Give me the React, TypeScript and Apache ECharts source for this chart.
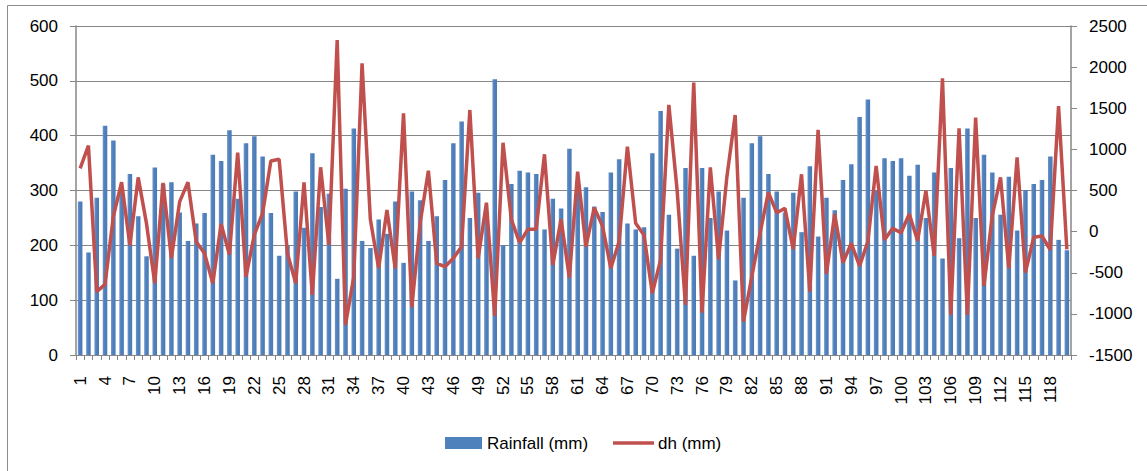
import React, { useEffect, useRef } from "react";
import * as echarts from "echarts";

const categories: string[] = Array.from({ length: 120 }, (_, i) => String(i + 1));

const rainfall: number[] = [
  280, 187, 287, 418, 391, 300, 330, 253, 180, 342,
  312, 315, 260, 208, 240, 259, 365, 354, 410, 285,
  386, 399, 362, 259, 181, 200, 298, 232, 368, 270,
  294, 139, 303, 413, 208, 195, 247, 221, 280, 168,
  298, 282, 208, 253, 319, 386, 426, 250, 296, 260,
  503, 200, 312, 336, 333, 330, 229, 285, 267, 376,
  305, 306, 271, 261, 333, 357, 240, 229, 233, 368,
  445, 256, 194, 341, 181, 341, 250, 298, 227, 136,
  287, 386, 399, 330, 298, 260, 296, 224, 344, 216,
  287, 264, 319, 348, 434, 466, 300, 359, 354, 359,
  327, 347, 250, 333, 176, 341, 213, 413, 250, 365,
  333, 256, 325, 227, 301, 312, 319, 362, 210, 191,
];

const dh: number[] = [
  770, 1045, -730, -641, 182, 600, -167, 660, 100, -629,
  591, -325, 364, 600, -122, -264, -629, 93, -280, 960,
  -548, -41, 222, 859, 879, -264, -629, 600, -770, 782,
  -163, 2330, -1135, -548, 2046, 149, -446, 263, -446, 1438,
  -920, 101, 741, -385, -426, -325, -183, 1479, -325, 352,
  -1026, 1081, 149, -134, 28, 28, 940, -406, 149, -560,
  729, -183, 291, 68, -446, -122, 1033, 101, -41, -750,
  -345, 1540, 500, -892, 1811, -985, 782, -337, 668, 1418,
  -1095, -548, -21, 478, 230, 283, -215, 697, -730, 1236,
  -515, 214, -378, -142, -418, -122, 798, -102, 40, -13,
  214, -110, 498, -296, 1864, -1014, 1256, -1014, 1386, -661,
  190, 660, -446, 903, -499, -69, -53, -223, 1527, -215,
];

const seriesNames: string[] = ["Rainfall (mm)", "dh (mm)"];

const FONT = "Liberation Sans";
const GRID_GRAY = "#868686";
const BLUE = "#4f81bd";
const RED = "#c0504d";

export default function App() {
  const ref = useRef<HTMLDivElement>(null);
  useEffect(() => {
    if (!ref.current) return;
    const chart = echarts.init(ref.current, undefined, { renderer: "svg" });
    chart.setOption({
      animation: false,
      backgroundColor: "#ffffff",
      textStyle: { fontFamily: FONT },
      graphic: [
        { type: "line", shape: { x1: 7.5, y1: 5.5, x2: 1147, y2: 5.5 }, style: { stroke: "#8c8c8c", lineWidth: 1 } },
        { type: "line", shape: { x1: 7.5, y1: 5.5, x2: 7.5, y2: 471 }, style: { stroke: "#8c8c8c", lineWidth: 1 } },
        { type: "rect", shape: { x: 445, y: 437, width: 37, height: 12 }, style: { fill: BLUE } },
        {
          type: "text",
          x: 487,
          y: 443,
          style: { text: seriesNames[0], fontFamily: FONT, fontSize: 17, fill: "#000", verticalAlign: "middle", align: "left" },
        },
        { type: "line", shape: { x1: 613, y1: 443, x2: 654, y2: 443 }, style: { stroke: RED, lineWidth: 3.5 } },
        {
          type: "text",
          x: 658,
          y: 443,
          style: { text: seriesNames[1], fontFamily: FONT, fontSize: 17, fill: "#000", verticalAlign: "middle", align: "left" },
        },
      ],
      grid: { left: 76, right: 76, top: 26, bottom: 116, containLabel: false },
      legend: { show: false },
      xAxis: {
        type: "category",
        data: categories,
        boundaryGap: true,
        axisLine: { lineStyle: { color: GRID_GRAY, width: 1 } },
        axisTick: { show: true, interval: 0, length: 5, lineStyle: { color: GRID_GRAY } },
        axisLabel: {
          interval: 2,
          rotate: 90,
          margin: 21,
          fontFamily: FONT,
          fontSize: 17,
          color: "#000",
        },
      },
      yAxis: [
        {
          type: "value",
          min: 0,
          max: 600,
          interval: 100,
          axisLine: { show: true, lineStyle: { color: GRID_GRAY, width: 1.5 } },
          axisTick: { show: true, length: 6, lineStyle: { color: GRID_GRAY } },
          splitLine: { show: true, lineStyle: { color: GRID_GRAY, width: 1.2 } },
          axisLabel: { margin: 18, fontFamily: FONT, fontSize: 17, color: "#000" },
        },
        {
          type: "value",
          min: -1500,
          max: 2500,
          interval: 500,
          position: "right",
          axisLine: { show: true, lineStyle: { color: GRID_GRAY, width: 1.5 } },
          axisTick: { show: true, length: 6, lineStyle: { color: GRID_GRAY } },
          splitLine: { show: false },
          axisLabel: {
            margin: 18,
            fontFamily: FONT,
            fontSize: 17,
            color: "#000",
            formatter: (v: number) => String(v),
          },
        },
      ],
      series: [
        {
          name: seriesNames[0],
          type: "bar",
          yAxisIndex: 0,
          data: rainfall,
          barWidth: "55%",
          itemStyle: {
            color: new echarts.graphic.LinearGradient(0, 0, 1, 0, [
              { offset: 0, color: "#6e96cb" },
              { offset: 0.4, color: BLUE },
              { offset: 1, color: "#4a7ab5" },
            ]),
          },
        },
        {
          name: seriesNames[1],
          type: "line",
          yAxisIndex: 1,
          data: dh,
          showSymbol: false,
          symbol: "none",
          lineStyle: { color: RED, width: 3.5 },
          itemStyle: { color: RED },
        },
      ],
    });
    return () => chart.dispose();
  }, []);
  return (
    <div
      ref={ref}
      style={{ position: "fixed", left: 0, top: 0, width: 1147, height: 471 }}
    />
  );
}
